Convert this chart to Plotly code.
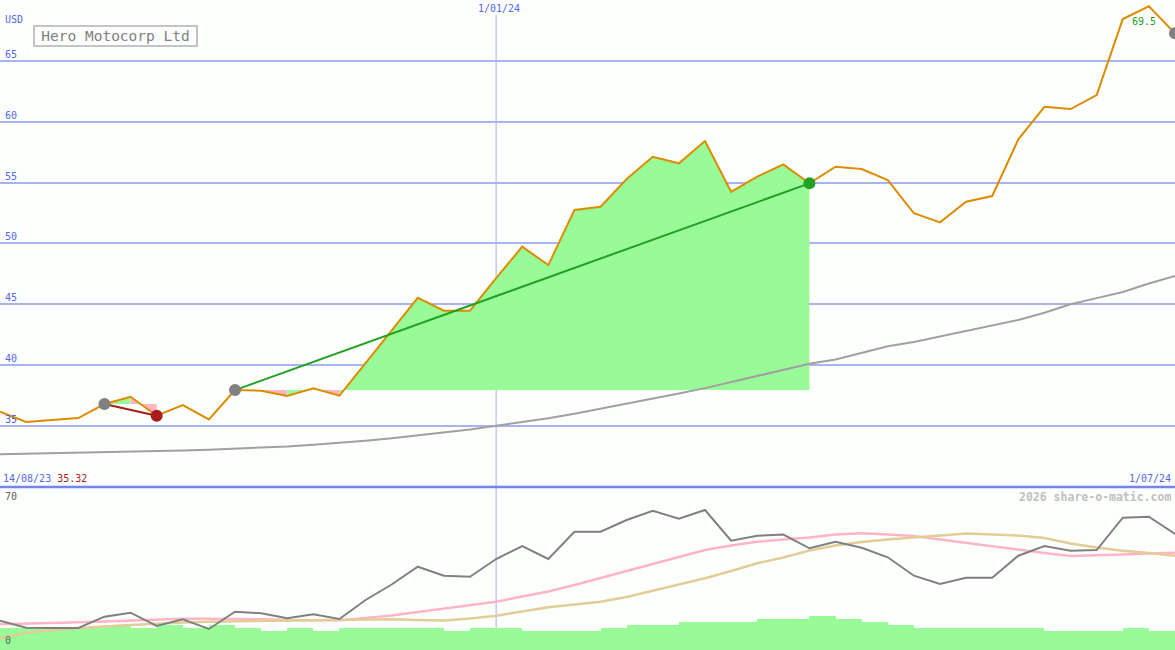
import plotly.graph_objects as go

# ---------------- data ----------------
dates = [
    "2023-08-21", "2023-08-28", "2023-09-04", "2023-09-11", "2023-09-18", "2023-09-25",
    "2023-10-02", "2023-10-09", "2023-10-16", "2023-10-23", "2023-10-30", "2023-11-06",
    "2023-11-13", "2023-11-20", "2023-11-27", "2023-12-04", "2023-12-11", "2023-12-18",
    "2023-12-25", "2024-01-01", "2024-01-08", "2024-01-15", "2024-01-22", "2024-01-29",
    "2024-02-05", "2024-02-12", "2024-02-19", "2024-02-26", "2024-03-04", "2024-03-11",
    "2024-03-18", "2024-03-25", "2024-04-01", "2024-04-08", "2024-04-15", "2024-04-22",
    "2024-04-29", "2024-05-06", "2024-05-13", "2024-05-20", "2024-05-27", "2024-06-03",
    "2024-06-10", "2024-06-17", "2024-06-24", "2024-07-01",
]

price = [36.16, 35.32, 35.48, 35.64, 36.79, 37.39, 35.83, 36.71, 35.53, 37.94,
         37.89, 37.45, 38.08, 37.48, 40.16, 42.86, 45.53, 44.47, 44.47, 47.15,
         49.73, 48.22, 52.75, 53.02, 55.30, 57.13, 56.59, 58.42, 54.25, 55.49,
         56.50, 54.94, 56.31, 56.12, 55.21, 52.48, 51.73, 53.43, 53.90, 58.56,
         61.24, 61.05, 62.20, 68.45, 69.50, 67.28]

long_ma = [32.66, 32.70, 32.74, 32.78, 32.83, 32.88, 32.93, 32.98, 33.04, 33.12,
           33.20, 33.30, 33.45, 33.60, 33.78, 33.98, 34.20, 34.42, 34.70, 35.00,
           35.30, 35.62, 36.00, 36.40, 36.80, 37.20, 37.65, 38.10, 38.60, 39.10,
           39.60, 40.10, 40.45, 41.00, 41.55, 41.90, 42.35, 42.80, 43.20, 43.70,
           44.30, 45.00, 45.50, 46.00, 46.70, 47.32]

indicator = [13.27, 9.87, 9.72, 9.72, 15.22, 17.16, 10.70, 13.95, 9.24, 17.65,
             16.87, 14.44, 16.38, 14.10, 23.33, 30.87, 39.52, 35.15, 34.66, 43.27,
             49.59, 43.27, 56.54, 56.54, 62.23, 66.75, 62.86, 67.09, 52.16, 54.59,
             55.18, 48.47, 51.68, 48.76, 44.09, 35.15, 31.11, 34.18, 34.18, 44.87,
             49.59, 47.30, 47.64, 63.34, 63.83, 55.42]

ind_fast = [11.52, 11.76, 12.15, 12.49, 12.88, 13.37, 14.00, 14.24, 14.24, 14.19,
            14.00, 13.61, 13.37, 13.47, 14.58, 15.80, 17.50, 19.20, 20.66, 22.51,
            25.04, 27.47, 30.63, 33.88, 37.43, 40.83, 44.24, 47.64, 49.83, 51.67,
            52.74, 53.72, 55.18, 55.76, 55.18, 54.45, 52.74, 51.04, 49.34, 47.64,
            46.18, 44.72, 44.97, 45.45, 45.94, 46.33]

ind_slow = [4.72, 7.29, 8.75, 9.72, 10.45, 11.18, 11.91, 12.40, 12.79, 12.98,
            13.22, 13.37, 13.47, 13.61, 13.76, 13.95, 13.61, 13.37, 14.34, 15.70,
            17.74, 19.79, 21.15, 22.51, 24.79, 27.71, 30.63, 33.88, 37.43, 41.17,
            43.99, 47.40, 49.83, 51.53, 52.74, 53.72, 54.69, 55.66, 55.18, 54.69,
            53.47, 50.80, 48.86, 47.30, 46.18, 44.87]

volume = [2.2, 2.2, 2.2, 2.2, 2.5, 2.2, 2.5, 2.2, 2.5, 2.2,
          1.9, 2.2, 1.9, 2.2, 2.2, 2.2, 2.2, 1.9, 2.2, 2.2,
          1.9, 1.9, 1.9, 2.2, 2.5, 2.5, 2.8, 2.8, 2.8, 3.1,
          3.1, 3.4, 3.1, 2.8, 2.5, 2.2, 2.2, 2.2, 2.2, 2.2,
          1.9, 1.9, 1.9, 2.2, 1.9]

trade_entries = ["2023-09-18", "2023-10-23"]
trade_exits = ["2023-10-02", "2024-03-25"]
open_signals = ["2024-07-01"]

price_ticks = [35, 40, 45, 50, 55, 60, 65]
ind_ticks = [0, 70]
title = "Hero Motocorp Ltd"
currency = "USD"
marker_date = "2024-01-01"
marker_label = "1/01/24"
start_label = "14/08/23"
end_label = "1/07/24"
credit = "2026 share-o-matic.com"

# ---------------- style ----------------
BG = "#fcfffc"
GRID = "#a8b4f0"
BLUE_TXT = "#5566ee"
SEP = "#7484f0"
VLINE = "#a8b0e8"
PRICE_C = "#dd8c00"
MA_C = "#a0a0a0"
FILL_G = "#98fb98"
FILL_P = "#ffb6c1"
GREEN = "#22a022"
RED = "#a81c1c"
GREY_DOT = "#808080"
MONO = "DejaVu Sans Mono"

W, H = 1175, 650
PRICE_DOM = [0.2508, 1.0]
IND_DOM = [0.0, 0.2477]

fig = go.Figure()

# trade fills (below price line)
for ent, ex in zip(trade_entries, trade_exits):
    ei, xi = dates.index(ent), dates.index(ex)
    base = price[ei]
    colors = [FILL_G if price[k + 1] >= base else FILL_P for k in range(ei, xi)]
    runs = []
    start = ei
    for k in range(ei + 1, xi):
        if colors[k - ei] != colors[k - 1 - ei]:
            runs.append((start, k - 1, colors[k - 1 - ei]))
            start = k
    runs.append((start, xi - 1, colors[xi - 1 - ei]))
    for a, b, c in runs:
        xs = [dates[a]] + dates[a:b + 2] + [dates[b + 1]]
        ys = [base] + price[a:b + 2] + [base]
        fig.add_trace(go.Scatter(x=xs, y=ys, fill="toself", fillcolor=c, mode="lines",
                                 line=dict(width=0, color=c), hoverinfo="skip",
                                 xaxis="x", yaxis="y", showlegend=False))

# long moving average
fig.add_trace(go.Scatter(x=dates, y=long_ma, mode="lines", line=dict(color=MA_C, width=2),
                         xaxis="x", yaxis="y", showlegend=False))
# price line
fig.add_trace(go.Scatter(x=dates, y=price, mode="lines", line=dict(color=PRICE_C, width=2),
                         xaxis="x", yaxis="y", showlegend=False))

# trade lines and markers
for ent, ex in zip(trade_entries, trade_exits):
    ei, xi = dates.index(ent), dates.index(ex)
    c = GREEN if price[xi] >= price[ei] else RED
    fig.add_trace(go.Scatter(x=[dates[ei], dates[xi]], y=[price[ei], price[xi]], mode="lines",
                             line=dict(color=c, width=2), xaxis="x", yaxis="y", showlegend=False))
    fig.add_trace(go.Scatter(x=[dates[ei]], y=[price[ei]], mode="markers",
                             marker=dict(color=GREY_DOT, size=12, line=dict(width=0)),
                             xaxis="x", yaxis="y", showlegend=False))
    fig.add_trace(go.Scatter(x=[dates[xi]], y=[price[xi]], mode="markers",
                             marker=dict(color=c, size=12, line=dict(width=0)),
                             xaxis="x", yaxis="y", showlegend=False))
for s in open_signals:
    si = dates.index(s)
    fig.add_trace(go.Scatter(x=[dates[si]], y=[price[si]], mode="markers",
                             marker=dict(color=GREY_DOT, size=12, line=dict(width=0)),
                             xaxis="x", yaxis="y", showlegend=False))

# lower panel: volume bars
WEEK_MS = 7 * 86400000
fig.add_trace(go.Bar(x=dates[:len(volume)], y=volume, width=[WEEK_MS] * len(volume), offset=0,
                     marker=dict(color=FILL_G, line=dict(width=0)),
                     xaxis="x2", yaxis="y2", showlegend=False))
# indicator lines
fig.add_trace(go.Scatter(x=dates, y=ind_fast, mode="lines", line=dict(color="#ffb4c8", width=2.5),
                         xaxis="x2", yaxis="y3", showlegend=False))
fig.add_trace(go.Scatter(x=dates, y=ind_slow, mode="lines", line=dict(color="#e2cc98", width=2.5),
                         xaxis="x2", yaxis="y3", showlegend=False))
fig.add_trace(go.Scatter(x=dates, y=indicator, mode="lines", line=dict(color="#808080", width=2),
                         xaxis="x2", yaxis="y3", showlegend=False))

xr = [dates[0], dates[-1]]
fig.update_layout(
    width=W, height=H,
    margin=dict(l=0, r=0, t=0, b=0, pad=0),
    paper_bgcolor=BG, plot_bgcolor=BG,
    showlegend=False, bargap=0,
    xaxis=dict(type="date", range=xr, domain=[0, 1], anchor="y", showgrid=False,
               showticklabels=False, zeroline=False, showline=False, ticks=""),
    xaxis2=dict(type="date", range=xr, domain=[0, 1], anchor="y2", showgrid=False,
                showticklabels=False, zeroline=False, showline=False, ticks="", matches="x"),
    yaxis=dict(range=[29.97, 70.02], domain=PRICE_DOM, anchor="x", tickvals=price_ticks,
               showgrid=True, gridcolor=GRID, gridwidth=2, showticklabels=False,
               zeroline=False, showline=False, ticks=""),
    yaxis2=dict(range=[0, 16], domain=IND_DOM, anchor="x2", showgrid=False,
                showticklabels=False, zeroline=False, showline=False, ticks=""),
    yaxis3=dict(range=[-0.97, 77.3], overlaying="y2", anchor="x2", showgrid=False,
                showticklabels=False, zeroline=False, showline=False, ticks="", visible=False),
)

shapes = [
    dict(type="line", xref="x", yref="paper", x0=marker_date, x1=marker_date,
         y0=0, y1=1 - 15 / H, line=dict(color=VLINE, width=1), layer="below"),
    dict(type="line", xref="paper", yref="paper", x0=0, x1=1,
         y0=PRICE_DOM[0], y1=PRICE_DOM[0], line=dict(color=SEP, width=2.5), layer="above"),
]
fig.update_layout(shapes=shapes)

ann = []
for v in price_ticks:
    ann.append(dict(x=0, xref="paper", xanchor="left", xshift=3, y=v, yref="y",
                    yanchor="bottom", yshift=-1, text=str(v), showarrow=False,
                    font=dict(family=MONO, size=10, color=BLUE_TXT)))
ann.append(dict(x=0, xref="paper", xanchor="left", xshift=3, y=1 - 27 / H, yref="paper",
                yanchor="bottom", text=currency, showarrow=False,
                font=dict(family=MONO, size=10, color=BLUE_TXT)))
for v in ind_ticks:
    ann.append(dict(x=0, xref="paper", xanchor="left", xshift=3, y=v, yref="y3",
                    yanchor="bottom", text=str(v), showarrow=False,
                    font=dict(family=MONO, size=10, color="#606060")))
ann.append(dict(x=marker_date, xref="x", xanchor="center", xshift=3, y=1 - 16 / H, yref="paper",
                yanchor="bottom", text=marker_label, showarrow=False,
                font=dict(family=MONO, size=10, color=BLUE_TXT)))
ann.append(dict(x=115.5 / W, xref="paper", xanchor="center", y=1 - 36 / H, yref="paper",
                yanchor="middle", text=title, showarrow=False, width=159, height=16,
                borderpad=1, borderwidth=2, bordercolor="#c4c4c4", bgcolor=BG,
                font=dict(family=MONO, size=14.5, color="#808080")))
imax = price.index(max(price))
ann.append(dict(x=dates[imax], xref="x", y=price[imax], yref="y", xanchor="center",
                yanchor="top", xshift=-5, yshift=-8, text=f"{max(price):.1f}", showarrow=False,
                font=dict(family=MONO, size=10, color=GREEN)))
ann.append(dict(x=0, xref="paper", xanchor="left", xshift=1, y=PRICE_DOM[0], yref="paper",
                yanchor="bottom", yshift=1,
                text=f"{start_label} <span style='color:{RED}'>{min(price):.2f}</span>",
                showarrow=False, font=dict(family=MONO, size=10, color=BLUE_TXT)))
ann.append(dict(x=1, xref="paper", xanchor="right", xshift=-2, y=PRICE_DOM[0], yref="paper",
                yanchor="bottom", yshift=1, text=end_label, showarrow=False,
                font=dict(family=MONO, size=10, color=BLUE_TXT)))
ann.append(dict(x=1, xref="paper", xanchor="right", xshift=-2, y=IND_DOM[1], yref="paper",
                yanchor="top", yshift=1, text=f"<b>{credit}</b>", showarrow=False,
                font=dict(family=MONO, size=11.5, color="#c0c0c0")))
fig.update_layout(annotations=ann)

fig.write_html("out.html", config={"displayModeBar": False},
               post_script="document.body.style.margin='0';document.body.style.overflow='hidden';")
